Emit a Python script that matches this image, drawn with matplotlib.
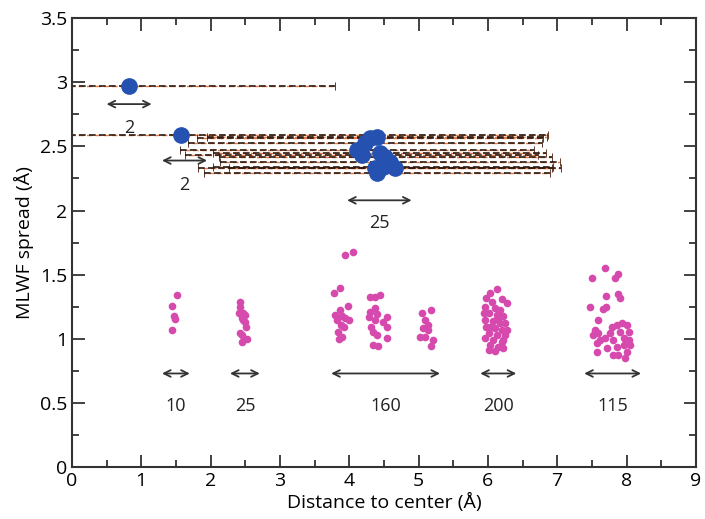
import numpy as np
import matplotlib
matplotlib.use("Agg")
import matplotlib.pyplot as plt
from matplotlib.ticker import MultipleLocator, FuncFormatter

plt.rcParams['font.family'] = ['Open Sans', 'DejaVu Sans']

# blue points: distance, spread, half-width of the dashed bar
blue_x = [0.82, 1.57, 4.11, 4.23, 4.30, 4.40, 4.18, 4.44, 4.52, 4.59, 4.66, 4.40, 4.37, 4.49]
blue_y = [2.97, 2.59, 2.471, 2.523, 2.562, 2.574, 2.432, 2.445, 2.419, 2.38, 2.328, 2.289, 2.328, 2.341]
blue_err = [2.98, 5.30, 2.55, 2.55, 2.50, 2.45, 2.55, 2.40, 2.40, 2.45, 2.40, 2.50, 2.55, 2.45]

# pink points
pink_x = [1.52, 1.44, 1.47, 1.49, 1.45,
          2.42, 2.42, 2.41, 2.47, 2.50, 2.45, 2.47, 2.50, 2.51, 2.42, 2.46, 2.53, 2.45,
          3.94, 4.05, 3.78, 3.87, 3.98, 3.87, 3.80, 3.89, 3.94, 3.83, 3.99, 3.88, 3.92, 3.84, 3.89, 3.85,
          4.30, 4.37, 4.44, 4.37, 4.30, 4.40, 4.28, 4.37, 4.54, 4.49, 4.32, 4.54, 4.35, 4.40, 4.54, 4.35, 4.42,
          5.05, 5.18, 5.09, 5.14, 5.07, 5.14, 5.02, 5.09, 5.21, 5.18,
          6.13, 5.97, 6.06, 6.20, 5.96, 6.10, 6.18, 6.01, 6.13, 6.22, 5.96, 6.07, 6.18, 6.25, 5.98, 6.10,
          6.20, 6.01, 6.13, 6.25, 5.96, 6.08, 6.20, 6.03, 6.15, 6.01, 6.10, 6.22, 6.03, 6.27, 6.03, 6.27,
          6.15, 5.94, 6.22,
          7.69, 7.50, 7.83, 7.88, 7.71, 7.88, 7.91, 7.47, 7.66, 7.71, 7.59, 7.55, 7.52, 7.59, 7.79, 7.86,
          7.93, 8.00, 7.76, 7.91, 8.03, 7.69, 7.81, 7.96, 8.03, 7.57, 7.72, 7.86, 7.96, 8.05, 7.57, 7.88,
          8.00, 7.98, 7.81, 7.62]
pink_y = [1.34, 1.255, 1.18, 1.155, 1.07,
          1.29, 1.245, 1.20, 1.20, 1.185, 1.165, 1.145, 1.13, 1.095, 1.047, 1.03, 0.995, 0.975,
          1.652, 1.678, 1.354, 1.40, 1.255, 1.224, 1.185, 1.177, 1.159, 1.146, 1.146, 1.107, 1.089, 1.055, 1.016, 0.995,
          1.327, 1.323, 1.341, 1.237, 1.21, 1.192, 1.167, 1.146, 1.171, 1.133, 1.094, 1.089, 1.055, 1.029, 1.003, 0.951, 0.943,
          1.198, 1.224, 1.146, 1.107, 1.081, 1.068, 1.016, 1.016, 0.99, 0.943,
          1.385, 1.315, 1.289, 1.307, 1.25, 1.237, 1.224, 1.198, 1.185, 1.177, 1.146, 1.141, 1.125, 1.12, 1.094, 1.081,
          1.068, 1.042, 1.029, 1.029, 1.003, 0.99, 0.977, 0.951, 0.938, 0.912, 0.906, 0.925, 1.354, 1.276, 1.094, 1.068,
          1.16, 1.198, 0.99,
          1.553, 1.476, 1.476, 1.502, 1.335, 1.346, 1.32, 1.25, 1.232, 1.25, 1.146, 1.068, 1.029, 1.042, 1.094, 1.107,
          1.12, 1.107, 1.042, 1.055, 1.055, 1.003, 0.99, 1.003, 0.99, 0.964, 0.925, 0.938, 0.951, 0.951, 0.899, 0.873,
          0.899, 0.847, 0.873, 0.99]

# double arrows (x start, x end, y) and the counts written below them
arrow_x0 = [0.50, 1.30, 3.97, 1.30, 2.28, 3.74, 5.89, 7.39]
arrow_x1 = [1.15, 1.95, 4.90, 1.70, 2.71, 5.31, 6.41, 8.21]
arrow_y = [2.83, 2.39, 2.08, 0.73, 0.73, 0.73, 0.73, 0.73]
counts = ['2', '2', '25', '10', '25', '160', '200', '115']
count_y = [2.64, 2.20, 1.90, 0.48, 0.48, 0.48, 0.48, 0.48]

fig = plt.figure(figsize=(7.05, 5.19), dpi=100)
ax = fig.add_axes([0.102, 0.100, 0.885, 0.865])

# dashed spread bars: an orange dash under a dark dash
for col, lw, ls in [('#e07a4a', 1.0, (3, (4, 2))), ('#2b1a12', 1.2, (0, (4, 2)))]:
    eb = ax.errorbar(blue_x, blue_y, xerr=blue_err, fmt='none', ecolor=col,
                     elinewidth=lw, capsize=3, capthick=0.5, zorder=2)
    eb[2][0].set_linestyle(ls)
    for cap in eb[1]:
        cap.set_color('#b0b0b0')

ax.plot(blue_x, blue_y, 'o', color='#2552b0', markersize=11, zorder=4)
ax.plot(pink_x, pink_y, 'o', color='#d64aad', markersize=5.5, markeredgewidth=0, zorder=3)

for x0, x1, y in zip(arrow_x0, arrow_x1, arrow_y):
    ax.annotate('', xy=(x1, y), xytext=(x0, y),
                arrowprops=dict(arrowstyle='<->', color='#333333', lw=1.3,
                                shrinkA=0, shrinkB=0, mutation_scale=12))
for x0, x1, y, t in zip(arrow_x0, arrow_x1, count_y, counts):
    ax.text((x0 + x1) / 2, y, t, ha='center', va='center', fontsize=13, color='#222222')

ax.set_xlim(0, 9)
ax.set_ylim(0, 3.5)
ax.xaxis.set_major_locator(MultipleLocator(1))
ax.xaxis.set_minor_locator(MultipleLocator(0.5))
ax.yaxis.set_major_locator(MultipleLocator(0.5))
ax.yaxis.set_minor_locator(MultipleLocator(0.25))
ax.yaxis.set_major_formatter(FuncFormatter(lambda v, p: '%g' % v))
ax.tick_params(which='both', direction='in', top=True, right=True, labelsize=14, width=1.3, color='#333333')
ax.tick_params(which='major', length=9)
ax.tick_params(which='minor', length=5)
for s in ax.spines.values():
    s.set_linewidth(1.5)
    s.set_color('#333333')

ax.set_xlabel('Distance to center (Å)', fontsize=14, labelpad=2)
ax.set_ylabel('MLWF spread (Å)', fontsize=14, labelpad=4)

fig.savefig('out.png', dpi=100)
